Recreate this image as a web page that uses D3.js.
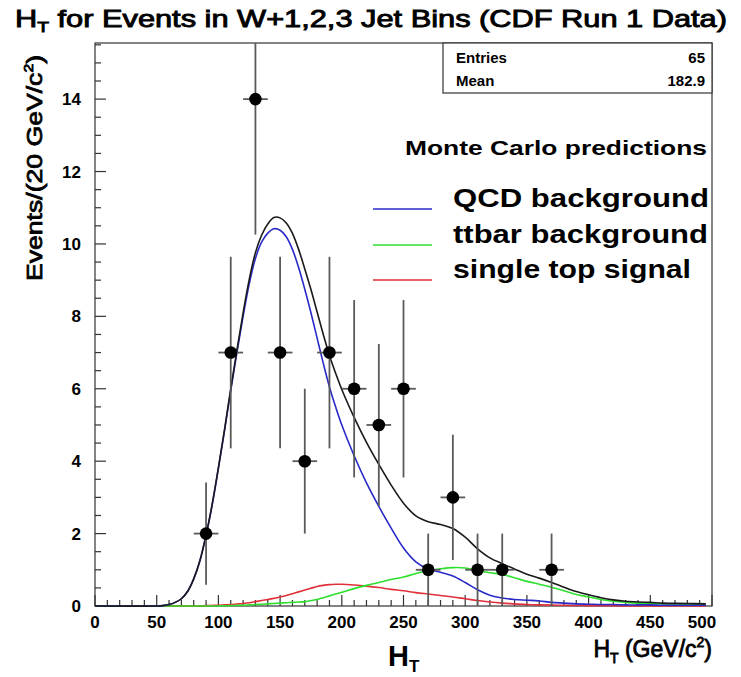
<!DOCTYPE html>
<html>
<head>
<meta charset="utf-8">
<script src="https://cdn.jsdelivr.net/npm/d3@7"></script>
<style>
  body { margin: 0; background: #fff; }
  svg { display: block; font-family: "Liberation Sans", Arial, sans-serif; }
</style>
</head>
<body>
<script>
// data histogram: 20 GeV bins, bin centres and counts (65 entries)
const binCenters = [90, 110, 130, 150, 170, 190, 210, 230, 250, 270, 290, 310, 330, 370];
const binCounts  = [2, 7, 14, 7, 4, 7, 6, 5, 6, 1, 3, 1, 1, 1];
const binHalfWidth = 10;

// Monte Carlo curves
const mcX = [0, 50, 55, 60, 65, 70, 75, 80, 85, 90, 95, 100, 105, 110, 115, 120, 125, 130, 135, 140, 145, 150,
             155, 160, 165, 170, 175, 180, 185, 190, 195, 200, 210, 220, 230, 240, 250, 260, 270, 280, 290, 300,
             310, 320, 330, 340, 350, 360, 370, 380, 390, 400, 410, 420, 430, 440, 450, 460, 480, 495];
const qcd   = [0, 0, 0.01, 0.04, 0.1, 0.2, 0.4, 0.75, 1.25, 1.95, 2.8, 3.8, 4.85, 5.95, 7.0, 8.0, 8.9, 9.6, 10.05, 10.3, 10.42, 10.38,
               10.2, 9.85, 9.35, 8.75, 8.1, 7.4, 6.7, 6.05, 5.5, 5.0, 4.15, 3.4, 2.75, 2.15, 1.6, 1.22, 1.02, 0.93, 0.83, 0.65,
               0.45, 0.3, 0.22, 0.18, 0.16, 0.14, 0.1, 0.08, 0.06, 0.05, 0.04, 0.04, 0.03, 0.03, 0.03, 0.02, 0.02, 0.02];
const ttbar = [0, 0, 0, 0, 0, 0, 0, 0, 0, 0, 0, 0, 0.005, 0.01, 0.015, 0.02, 0.03, 0.04, 0.05, 0.06, 0.07, 0.08,
               0.09, 0.1, 0.11, 0.12, 0.15, 0.18, 0.23, 0.28, 0.33, 0.38, 0.48, 0.57, 0.65, 0.73, 0.8, 0.9, 0.98, 1.03, 1.06, 1.05,
               0.98, 0.92, 0.87, 0.78, 0.68, 0.6, 0.52, 0.42, 0.32, 0.25, 0.18, 0.13, 0.1, 0.08, 0.07, 0.06, 0.05, 0.04];
const stop  = [0, 0, 0, 0, 0, 0, 0, 0, 0, 0.01, 0.015, 0.02, 0.03, 0.04, 0.055, 0.07, 0.09, 0.12, 0.15, 0.18, 0.21, 0.25,
               0.29, 0.34, 0.39, 0.44, 0.49, 0.54, 0.57, 0.59, 0.6, 0.6, 0.58, 0.55, 0.51, 0.46, 0.42, 0.37, 0.33, 0.29, 0.25, 0.2,
               0.15, 0.11, 0.08, 0.06, 0.04, 0.03, 0.025, 0.02, 0.015, 0.01, 0.01, 0.005, 0, 0, 0, 0, 0, 0];
const total = [0, 0, 0.01, 0.04, 0.1, 0.2, 0.4, 0.75, 1.25, 1.96, 2.82, 3.82, 4.88, 6.0, 7.07, 8.09, 9.02, 9.76, 10.24, 10.55, 10.73, 10.72,
               10.58, 10.29, 9.85, 9.31, 8.74, 8.12, 7.5, 6.92, 6.43, 5.98, 5.21, 4.52, 3.91, 3.34, 2.84, 2.49, 2.33, 2.25, 2.14, 1.9,
               1.58, 1.33, 1.17, 1.02, 0.88, 0.77, 0.65, 0.52, 0.4, 0.31, 0.23, 0.17, 0.13, 0.11, 0.1, 0.08, 0.07, 0.06];

const legendNames  = ["QCD background", "ttbar background", "single top signal"];
const legendColors = ["#2a2ac8", "#2ee02e", "#e0303a"];

const xTicks = d3.range(0, 501, 50);
const yTicks = d3.range(0, 15, 2);

const width = 741, height = 677;
const svg = d3.select("body").append("svg").attr("width", width).attr("height", height);

const x = d3.scaleLinear().domain([0, 500]).range([95, 712]);
const y = d3.scaleLinear().domain([0, 15.55]).range([606, 43]);

// medium weight text: regular glyphs with a thin outline
function medium(sel, w) {
  return sel.attr("stroke", "#000").attr("stroke-width", w).attr("paint-order", "stroke");
}

// title
const title = svg.append("text")
    .attr("x", 371).attr("y", 27)
    .attr("text-anchor", "middle")
    .attr("font-size", 24)
    .attr("textLength", 712).attr("lengthAdjust", "spacingAndGlyphs");
medium(title, 0.9);
title.append("tspan").text("H");
title.append("tspan").attr("font-size", 15).attr("dy", 5).text("T");
title.append("tspan").attr("dy", -5).text(" for Events in W+1,2,3 Jet Bins (CDF Run 1 Data)");

// frame
svg.append("rect")
    .attr("x", x(0)).attr("y", y.range()[1])
    .attr("width", x(500) - x(0)).attr("height", y(0) - y.range()[1])
    .attr("fill", "none").attr("stroke", "#333").attr("stroke-width", 1.2);

// y ticks
const yMinor = d3.range(0, 15.51, 0.5);
svg.append("g").selectAll("line").data(yMinor).join("line")
    .attr("x1", x(0)).attr("x2", d => x(0) + (d % 2 === 0 ? 11 : 6))
    .attr("y1", d => y(d)).attr("y2", d => y(d))
    .attr("stroke", "#333").attr("stroke-width", 1.2);
svg.append("g").selectAll("text").data(yTicks).join("text")
    .attr("x", 81).attr("y", d => y(d) + 6)
    .attr("text-anchor", "end")
    .attr("font-size", 17).attr("font-weight", "bold")
    .text(d => d);

// x ticks
const xMinor = d3.range(0, 501, 10);
svg.append("g").selectAll("line").data(xMinor).join("line")
    .attr("x1", d => x(d)).attr("x2", d => x(d))
    .attr("y1", y(0)).attr("y2", d => y(0) - (d % 50 === 0 ? 11 : 6))
    .attr("stroke", "#333").attr("stroke-width", 1.2);
svg.append("g").selectAll("text").data(xTicks).join("text")
    .attr("x", d => x(d) - (d === 500 ? 10 : 0)).attr("y", 628)
    .attr("text-anchor", "middle")
    .attr("font-size", 17).attr("font-weight", "bold")
    .text(d => d);

// axis titles
const yt = svg.append("text")
    .attr("transform", "translate(42,168) rotate(-90)")
    .attr("text-anchor", "middle")
    .attr("font-size", 22)
    .attr("textLength", 226).attr("lengthAdjust", "spacingAndGlyphs")
    .html('Events/(20 GeV/c<tspan font-size="13" dy="-9">2</tspan><tspan dy="9">)</tspan>');
medium(yt, 0.8);

const xt = svg.append("text")
    .attr("x", 712).attr("y", 657)
    .attr("text-anchor", "end")
    .attr("font-size", 23);
medium(xt, 0.8);
xt.append("tspan").text("H");
xt.append("tspan").attr("font-size", 14).attr("dy", 6).text("T");
xt.append("tspan").attr("dy", -6).text(" (GeV/c");
xt.append("tspan").attr("font-size", 14).attr("dy", -10).text("2");
xt.append("tspan").attr("dy", 10).text(")");

const ht = svg.append("text")
    .attr("x", 388).attr("y", 666)
    .attr("font-size", 29).attr("font-weight", "bold");
ht.append("tspan").text("H");
ht.append("tspan").attr("font-size", 17).attr("dy", 6).text("T");

// stats box
svg.append("rect")
    .attr("x", 443).attr("y", 43).attr("width", 712 - 443).attr("height", 50)
    .attr("fill", "#fff").attr("stroke", "#333").attr("stroke-width", 1.2);
const stats = [["Entries", "65"], ["Mean", "182.9"]];
stats.forEach((s, i) => {
  svg.append("text").attr("x", 456).attr("y", 63 + i * 23)
      .attr("font-size", 15).attr("font-weight", "bold").text(s[0]);
  svg.append("text").attr("x", 705).attr("y", 63 + i * 23)
      .attr("text-anchor", "end")
      .attr("font-size", 15).attr("font-weight", "bold").text(s[1]);
});

// curves
const line = d3.line()
    .x(d => x(d[0])).y(d => y(d[1]))
    .curve(d3.curveCatmullRom);
const curves = [
  {vals: stop,  color: legendColors[2]},
  {vals: ttbar, color: legendColors[1]},
  {vals: qcd,   color: legendColors[0]},
  {vals: total, color: "#1a1a1a"}
];
curves.forEach(c => {
  svg.append("path")
      .datum(mcX.map((v, i) => [v, c.vals[i]]))
      .attr("d", line)
      .attr("fill", "none")
      .attr("stroke", c.color)
      .attr("stroke-width", 1.6);
});

// data points with errors
const pts = binCenters.map((c, i) => ({x: c, n: binCounts[i], e: Math.sqrt(binCounts[i])}));
const gp = svg.append("g");
gp.selectAll("line.v").data(pts).join("line")
    .attr("class", "v")
    .attr("x1", d => x(d.x)).attr("x2", d => x(d.x))
    .attr("y1", d => y(Math.max(0, d.n - d.e)))
    .attr("y2", d => Math.max(y.range()[1], y(d.n + d.e)))
    .attr("stroke", "#5a5a5a").attr("stroke-width", 1.8);
gp.selectAll("line.h").data(pts).join("line")
    .attr("class", "h")
    .attr("x1", d => x(d.x - binHalfWidth)).attr("x2", d => x(d.x + binHalfWidth))
    .attr("y1", d => y(d.n)).attr("y2", d => y(d.n))
    .attr("stroke", "#5a5a5a").attr("stroke-width", 1.8);
gp.selectAll("circle").data(pts).join("circle")
    .attr("cx", d => x(d.x)).attr("cy", d => y(d.n))
    .attr("r", 6.3).attr("fill", "#000");

// Monte Carlo legend
svg.append("text")
    .attr("x", 707).attr("y", 155)
    .attr("text-anchor", "end")
    .attr("font-size", 21).attr("font-weight", "bold")
    .attr("textLength", 302).attr("lengthAdjust", "spacingAndGlyphs")
    .text("Monte Carlo predictions");

const legY = [207, 243, 278];
const legLen = [256, 255, 238];
legendNames.forEach((name, i) => {
  svg.append("line")
      .attr("x1", 373).attr("x2", 432)
      .attr("y1", legY[i] + 2).attr("y2", legY[i] + 2)
      .attr("stroke", legendColors[i]).attr("stroke-width", 1.6);
  svg.append("text")
      .attr("x", 453).attr("y", legY[i])
      .attr("font-size", 25).attr("font-weight", "bold")
      .attr("textLength", legLen[i]).attr("lengthAdjust", "spacingAndGlyphs")
      .text(name);
});
</script>
</body>
</html>
